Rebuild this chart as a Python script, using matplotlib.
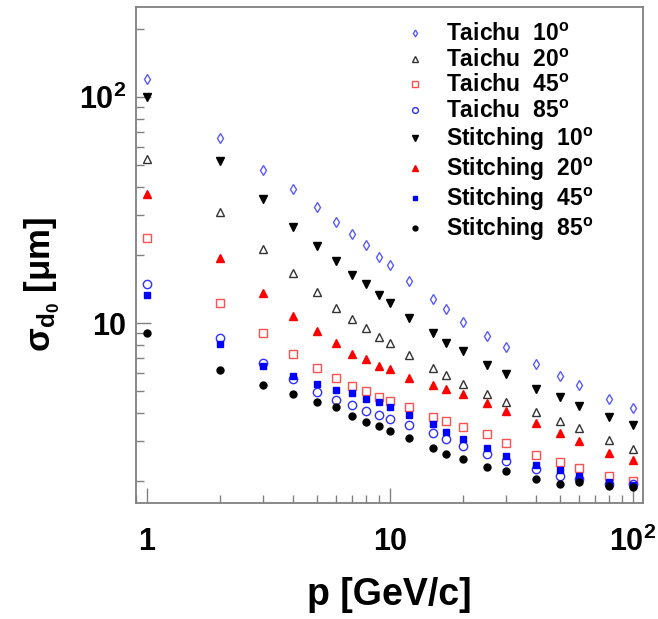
import numpy as np
import matplotlib
matplotlib.use("Agg")
import matplotlib.pyplot as plt
from matplotlib.ticker import FixedLocator, LogLocator, NullFormatter, FixedFormatter

plt.rcParams["font.family"] = "Liberation Sans"
plt.rcParams["font.weight"] = "bold"
plt.rcParams["mathtext.fontset"] = "custom"
plt.rcParams["mathtext.rm"] = "Liberation Sans:bold"
plt.rcParams["mathtext.bf"] = "Liberation Sans:bold"
plt.rcParams["mathtext.it"] = "Liberation Sans:bold"
plt.rcParams["mathtext.default"] = "bf"

# momentum points [GeV/c]
p = [1, 2, 3, 4, 5, 6, 7, 8, 9, 10, 12, 15, 17, 20, 25, 30, 40, 50, 60, 80, 100]

# sigma_d0 [um]
taichu_10 = [120, 65.9, 47.5, 39.1, 32.7, 27.9, 24.7, 22.1, 19.6, 18.1, 15.3, 12.8, 11.5, 10.1, 8.8, 7.83, 6.6, 5.85, 5.32, 4.63, 4.20]
taichu_20 = [53.2, 30.9, 21.3, 16.6, 13.7, 11.7, 10.4, 9.5, 8.7, 8.16, 7.2, 6.35, 5.9, 5.36, 4.84, 4.48, 4.03, 3.68, 3.43, 3.04, 2.76]
taichu_45 = [23.8, 12.3, 9.0, 7.3, 6.35, 5.73, 5.27, 5.02, 4.72, 4.54, 4.24, 3.84, 3.68, 3.48, 3.22, 2.96, 2.61, 2.44, 2.28, 2.11, 2.01]
taichu_85 = [14.9, 8.55, 6.63, 5.64, 4.97, 4.58, 4.34, 4.08, 3.92, 3.77, 3.53, 3.26, 3.07, 2.86, 2.64, 2.46, 2.26, 2.11, 2.04, 1.94, 1.94]
stitch_10 = [100, 52.1, 35.4, 26.6, 22.0, 18.9, 16.3, 14.9, 13.3, 12.3, 10.5, 9.0, 8.2, 7.55, 6.5, 5.97, 5.1, 4.72, 4.28, 3.83, 3.53]
stitch_20 = [37.1, 19.4, 13.6, 10.8, 9.2, 8.2, 7.3, 6.92, 6.43, 6.24, 5.7, 5.32, 5.1, 4.87, 4.43, 4.08, 3.62, 3.26, 3.02, 2.67, 2.47]
stitch_45 = [13.3, 8.05, 6.44, 5.85, 5.4, 5.06, 4.89, 4.63, 4.48, 4.27, 3.92, 3.57, 3.31, 3.07, 2.79, 2.58, 2.36, 2.23, 2.11, 1.99, 1.92]
stitch_85 = [9.06, 6.2, 5.31, 4.86, 4.48, 4.26, 3.87, 3.66, 3.50, 3.32, 3.10, 2.79, 2.64, 2.50, 2.32, 2.22, 2.05, 1.94, 1.98, 1.90, 1.88]

labels = ["Taichu  10$^{o}$", "Taichu  20$^{o}$", "Taichu  45$^{o}$", "Taichu  85$^{o}$",
          "Stitching  10$^{o}$", "Stitching  20$^{o}$", "Stitching  45$^{o}$", "Stitching  85$^{o}$"]

fig = plt.figure(figsize=(6.58, 6.19), dpi=100)
ax = fig.add_axes([136/658, 1-503/619, 507/658, 496/619])

ax.plot(p, taichu_10, ls="none", marker="d", ms=5, mfc="none", mec="#5a5aff", mew=1.0, label=labels[0])
ax.plot(p, taichu_20, ls="none", marker="^", ms=6, mfc="none", mec="#333333", mew=1.0, label=labels[1])
ax.plot(p, taichu_45, ls="none", marker="s", ms=6, mfc="none", mec="#ff5050", mew=1.0, label=labels[2])
ax.plot(p, taichu_85, ls="none", marker="o", ms=6, mfc="none", mec="#3030ff", mew=1.0, label=labels[3])
ax.plot(p, stitch_10, ls="none", marker="v", ms=6, color="black", label=labels[4])
ax.plot(p, stitch_20, ls="none", marker="^", ms=6, color="red", label=labels[5])
ax.plot(p, stitch_45, ls="none", marker="s", ms=5, color="blue", label=labels[6])
ax.plot(p, stitch_85, ls="none", marker="o", ms=5, color="black", label=labels[7])

ax.set_xscale("log")
ax.set_yscale("log")
ax.set_xlim(0.9, 110)
ax.set_ylim(1.6, 250)

ax.xaxis.set_major_locator(FixedLocator([1, 10, 100]))
ax.xaxis.set_major_formatter(FixedFormatter(["1", "10", "$10^{2}$"]))
ax.yaxis.set_major_locator(FixedLocator([10, 100]))
ax.yaxis.set_major_formatter(FixedFormatter(["10", "$10^{2}$"]))
ax.xaxis.set_minor_locator(LogLocator(base=10, subs=np.arange(2, 10)))
ax.yaxis.set_minor_locator(LogLocator(base=10, subs=np.arange(2, 10)))
ax.xaxis.set_minor_formatter(NullFormatter())
ax.yaxis.set_minor_formatter(NullFormatter())

for s in ax.spines.values():
    s.set_color("#808080")
    s.set_linewidth(1.3)
ax.tick_params(which="both", direction="in", color="#808080", width=1.0, top=False, right=False)
ax.tick_params(which="major", length=11)
ax.tick_params(which="minor", length=5.5)
ax.tick_params(axis="x", which="major", labelsize=22, pad=17)
ax.tick_params(axis="y", which="major", labelsize=22, pad=7)

ax.set_xlabel("p [GeV/c]", fontsize=27, fontweight="bold", labelpad=14)
ax.set_ylabel(r"$\sigma_{d_{0}}$ [$\mu$m]", fontsize=25, fontweight="bold")
ax.yaxis.set_label_coords(-0.146, 0.44)

leg = ax.legend(loc="upper left", bbox_to_anchor=(404/658, 1-23/619), bbox_transform=fig.transFigure,
                frameon=False, fontsize=16.5, handlelength=1.0, handletextpad=0.85,
                labelspacing=0.12, borderpad=0, borderaxespad=0, markerscale=0.7)

fig.savefig("out.png", dpi=100)
